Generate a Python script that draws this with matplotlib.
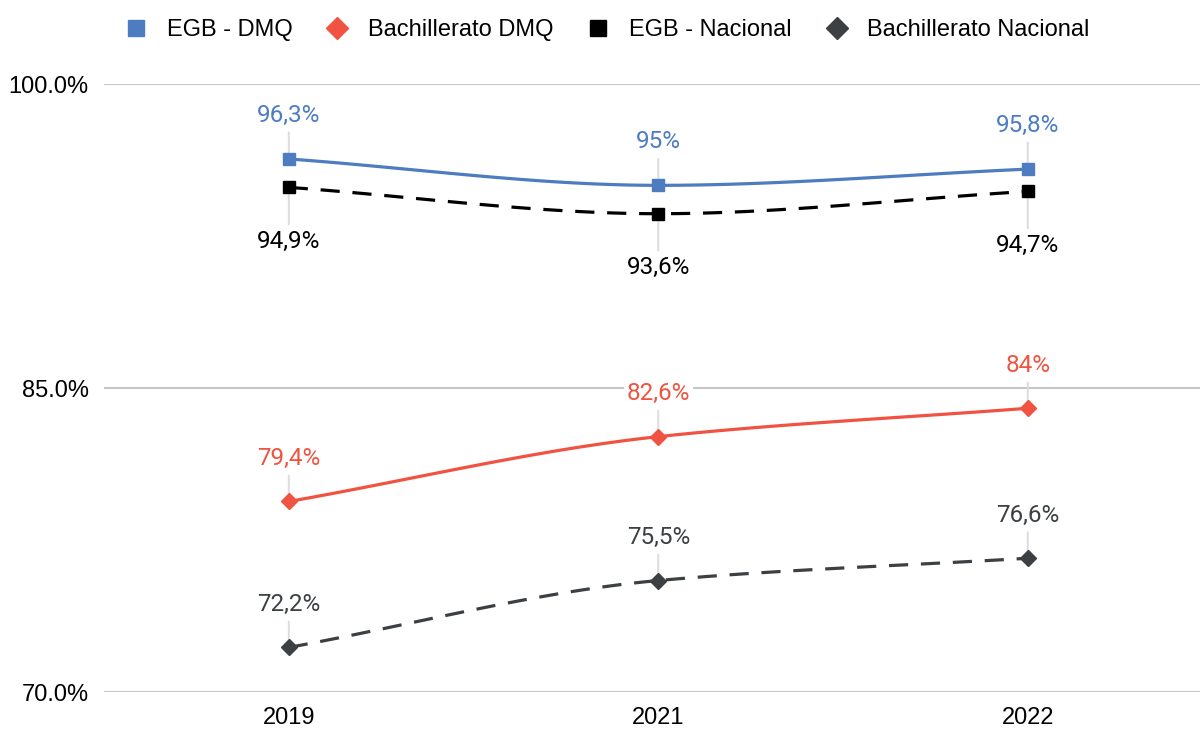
import numpy as np
import matplotlib
matplotlib.use("Agg")
import matplotlib.pyplot as plt
from matplotlib.lines import Line2D

years = ["2019", "2021", "2022"]
egb_dmq = [96.3, 95.0, 95.8]
bach_dmq = [79.4, 82.6, 84.0]
egb_nac = [94.9, 93.6, 94.7]
bach_nac = [72.2, 75.5, 76.6]
yticks = [70, 85, 100]


def smooth(y, n=60):
    # monotone cubic (Fritsch-Carlson) between category points, like the sheet's smooth lines
    y = np.asarray(y, float)
    x = np.arange(len(y), dtype=float)
    d = np.diff(y)
    m = np.zeros_like(y)
    m[0], m[-1] = d[0], d[-1]
    for k in range(1, len(y) - 1):
        if d[k - 1] * d[k] > 0:
            m[k] = 2 / (1 / d[k - 1] + 1 / d[k])
    xs, ys = [], []
    for k in range(len(y) - 1):
        t = np.linspace(0, 1, n)
        h00 = 2 * t**3 - 3 * t**2 + 1
        h10 = t**3 - 2 * t**2 + t
        h01 = -2 * t**3 + 3 * t**2
        h11 = t**3 - t**2
        xs.append(x[k] + t)
        ys.append(h00 * y[k] + h10 * m[k] + h01 * y[k + 1] + h11 * m[k + 1])
    return np.concatenate(xs), np.concatenate(ys)


def fmt(v):
    s = f"{v:.1f}".replace(".", ",")
    if s.endswith(",0"):
        s = s[:-2]
    return s + "%"


series = [
    ("EGB - DMQ", egb_dmq, "#4e7cc1", "s", "-", 31.5, "#4e7cc1"),
    ("Bachillerato DMQ", bach_dmq, "#f05341", "D", "-", 31.0, "#f05341"),
    ("EGB - Nacional", egb_nac, "#000000", "s", (0, (6, 4)), -39.0, "#000000"),
    ("Bachillerato Nacional", bach_nac, "#3c4043", "D", (0, (6, 4)), 31.0, "#3c4043"),
]

fig = plt.figure(figsize=(12.02, 7.29), dpi=100)
ax = fig.add_axes([104 / 1202, 37 / 729, 1096 / 1202, 608 / 729])
x = np.arange(len(years))

handles = []
for name, vals, col, mk, ls, dy, tcol in series:
    sx, sy = smooth(vals)
    ax.plot(sx, sy, color=col, lw=2.3, linestyle=ls, zorder=3, solid_capstyle="butt")
    ms = 8.5 if mk == "s" else 8
    ax.plot(x, vals, linestyle="none", marker=mk, ms=ms, color=col, zorder=4)
    for i, v in enumerate(vals):
        ax.annotate(fmt(v), xy=(i, v), xytext=(0, dy), textcoords="offset points",
                    ha="center", va="center", color=tcol, fontsize=17.5, family="Roboto",
                    bbox=dict(boxstyle="square,pad=0.12", fc="white", ec="none"),
                    arrowprops=dict(arrowstyle="-", color="#dcdcdc", lw=1.4,
                                    shrinkA=2, shrinkB=0),
                    zorder=2)
    handles.append(Line2D([], [], linestyle="none", marker=mk, color=col,
                          ms=11 if mk == "s" else 11.5, label=name))

ax.set_xlim(-0.5, -0.5 + 1096 / 369.5)
ax.set_ylim(70, 100)
ax.set_xticks(x)
ax.set_xticklabels(years, family="Liberation Sans", fontsize=17)
ax.set_yticks(yticks)
ax.set_yticklabels([f"{t:.1f}%" for t in yticks], family="Liberation Sans", fontsize=17)
ax.tick_params(axis="both", length=0, colors="#000000")
ax.tick_params(axis="y", pad=11)
ax.tick_params(axis="x", pad=11)
for s in ax.spines.values():
    s.set_visible(False)
ax.grid(axis="y", color="#c6c6c6", lw=1.5)
ax.set_axisbelow(True)

fig.legend(handles=handles, loc="center", bbox_to_anchor=(0.505, 1 - 30 / 729), ncol=4,
           frameon=False, prop={"family": "Liberation Sans", "size": 17},
           handletextpad=0.8, columnspacing=1.4, handlelength=1.0)

fig.savefig("out.png", dpi=100)
